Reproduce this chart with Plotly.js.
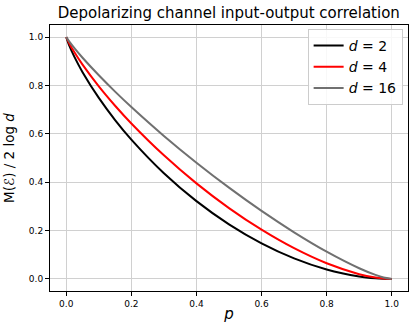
<!DOCTYPE html>
<html>
<head>
<meta charset="utf-8">
<script src="https://cdn.plot.ly/plotly-3.0.1.min.js"></script>
<style>html,body{margin:0;padding:0;background:#fff;}#chart{width:416px;height:334px;}</style>
</head>
<body>
<div id="chart"></div>
<script>
const pValues = [0, 0.01, 0.025, 0.05, 0.1, 0.15, 0.2, 0.3, 0.4, 0.5, 0.6, 0.7, 0.8, 0.9, 0.95, 0.975, 1];
const d2 = [1, 0.9622, 0.9180, 0.8549, 0.7484, 0.6571, 0.5762, 0.4371, 0.3216, 0.2256, 0.1470, 0.0849, 0.0390, 0.0102, 0.0026, 0.0007, 0];
const d4 = [1, 0.9717, 0.9370, 0.8860, 0.7962, 0.7162, 0.6428, 0.5110, 0.3951, 0.2929, 0.2034, 0.1269, 0.0646, 0.0196, 0.0056, 0.0015, 0];
const d16 = [1, 0.9800, 0.9541, 0.9145, 0.8420, 0.7746, 0.7109, 0.5914, 0.4806, 0.3773, 0.2812, 0.1927, 0.1127, 0.0441, 0.0166, 0.0059, 0];
const seriesNames = ["<i>d</i> = 2", "<i>d</i> = 4", "<i>d</i> = 16"];
const tickVals = [0, 0.2, 0.4, 0.6, 0.8, 1.0];
const tickText = ["0.0", "0.2", "0.4", "0.6", "0.8", "1.0"];

const colors = ["#000000", "#ff0000", "#707070"];
const ys = [d2, d4, d16];
const traces = ys.map((y, i) => ({
  x: pValues, y: y, type: "scatter", mode: "lines", name: seriesNames[i],
  line: {color: colors[i], width: 2, shape: "spline", smoothing: 0.8}
}));

const font = "DejaVu Sans, sans-serif";
const axisCommon = {
  range: [-0.05, 1.05], tickvals: tickVals, ticktext: tickText,
  showgrid: true, gridcolor: "#d0d0d0", gridwidth: 1,
  zeroline: false, showline: true, linecolor: "#000", linewidth: 1, mirror: true,
  ticks: "outside", ticklen: 4, tickcolor: "#000", tickwidth: 1,
  tickfont: {family: font, size: 9, color: "#000"}
};
const layout = {
  width: 416, height: 334,
  margin: {l: 50, r: 8, t: 25, b: 43},
  paper_bgcolor: "#fff", plot_bgcolor: "#fff",
  title: {text: "Depolarizing channel input-output correlation", font: {family: font, size: 15, color: "#000"},
    x: 0.55, xanchor: "center", y: 0.962, yanchor: "middle", yref: "container"},
  xaxis: Object.assign({}, axisCommon, {title: {text: "<i>p</i>", font: {family: font, size: 15, color: "#000"}, standoff: 0}}),
  yaxis: Object.assign({}, axisCommon, {title: {text: "M(ℰ) / 2 log <i>d</i>", font: {family: font, size: 13.5, color: "#000"}, standoff: 11}}),
  legend: {x: 0.985, xanchor: "right", y: 0.985, yanchor: "top",
    bgcolor: "rgba(255,255,255,0.85)", bordercolor: "#cccccc", borderwidth: 1,
    font: {family: font, size: 14, color: "#000"}, tracegroupgap: 0},
  showlegend: true
};
Plotly.newPlot("chart", traces, layout, {displayModeBar: false, staticPlot: true});
</script>
</body>
</html>
